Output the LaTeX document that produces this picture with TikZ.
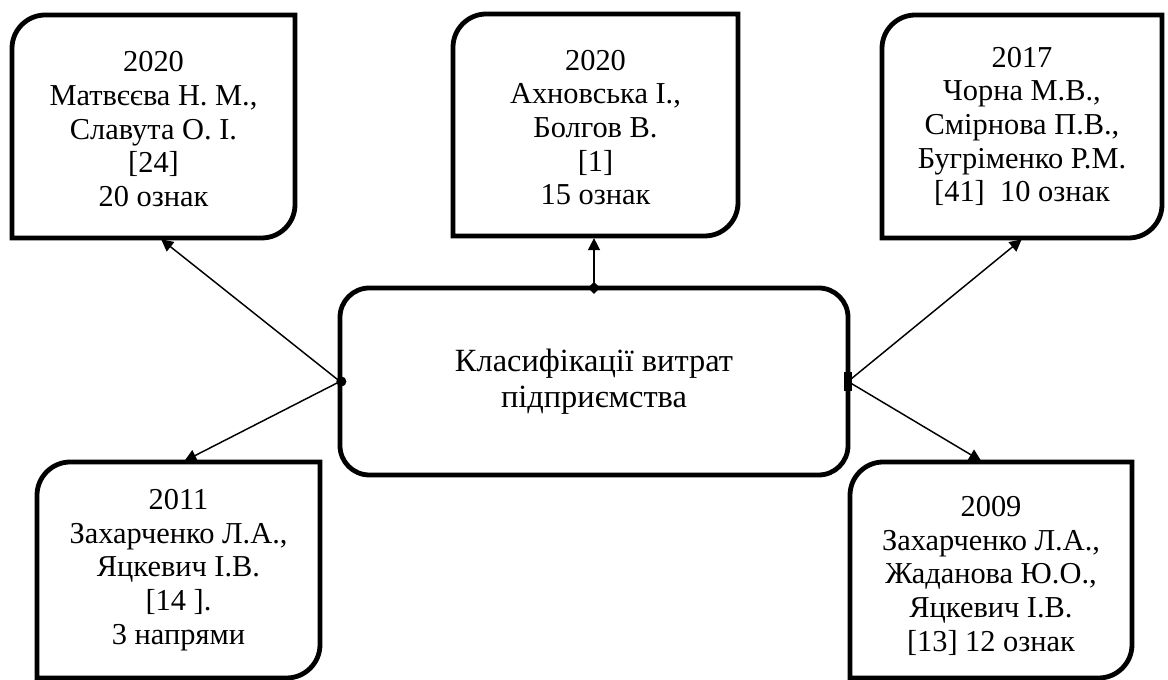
\documentclass[tikz,border=0pt]{standalone}
\usepackage{fontspec}
\setmainfont{Liberation Serif}
\usetikzlibrary{arrows.meta}
\newcommand\tagframe[1]{\draw[frame] (#1.south west) -- ([yshift=-25pt]#1.north west) arc[start angle=180,end angle=90,radius=25pt] -- (#1.north east) -- ([yshift=25pt]#1.south east) arc[start angle=0,end angle=-90,radius=25pt] -- cycle;}
\begin{document}
\begin{tikzpicture}[x=0.75pt,y=0.75pt,
  frame/.style={line width=3.6pt},
  lbl/.style={align=center,font=\fontsize{22.8}{25.2}\selectfont,inner sep=0pt,outer sep=0pt},
  link/.style={line width=1.1pt,-{Triangle[length=9pt,width=9pt]},shorten >=1.6pt},
]
\useasboundingbox (0,0) rectangle (1168,680);
\node[lbl,minimum width=212.25pt,minimum height=167.25pt] (tl) at (153.5,553.5)
  {\rule{0pt}{19pt}2020\\Матвєєва Н. М.,\\Славута О. І.\\{[24]}\\20 ознак};
\node[lbl,minimum width=213.75pt,minimum height=166.5pt] (tm) at (595.5,555)
  {\rule{0pt}{19pt}2020\\Ахновська І.,\\Болгов В.\\{[1]}\\15 ознак};
\node[lbl,minimum width=210pt,minimum height=167.25pt] (tr) at (1022,553.5)
  {2017\\Чорна М.В.,\\Смірнова П.В.,\\Бугріменко Р.М.\\{[41]}\ \ 10 ознак};
\node[lbl,minimum width=212.25pt,minimum height=162pt] (bl) at (178.5,110)
  {2011\\Захарченко Л.А.,\\Яцкевич І.В.\\{[14 ].}\\3 напрями};
\node[lbl,minimum width=211.5pt,minimum height=162pt] (br) at (991,110)
  {\rule{0pt}{24pt}2009\\Захарченко Л.А.,\\Жаданова Ю.О.,\\Яцкевич І.В.\\{[13]} 12 ознак};
\node[draw,frame,rounded corners=22pt,minimum width=381pt,minimum height=140.25pt,
  font=\fontsize{24.3}{27}\selectfont,align=center,inner sep=0pt,outer sep=0pt] (c) at (594,298.5)
  {Класифікації витрат\\підприємства};
\tagframe{tl}
\tagframe{tm}
\tagframe{tr}
\tagframe{bl}
\tagframe{br}
\draw[link] (c.west) -- ([xshift=4.5pt]tl.south);
\draw[link] (c.west) -- ([xshift=3pt]bl.north);
\draw[link] (c.north) -- (c.north |- tm.south);
\draw[link] (c.east) -- ([xshift=1pt]tr.south);
\draw[link] (c.east) -- ([xshift=-6pt]br.north);
\fill (c.north) +(0,4.5pt) -- +(4.5pt,0) -- +(0,-4.5pt) -- +(-4.5pt,0) -- cycle;
\fill ([xshift=1pt]c.west) circle[radius=3.8pt];
\fill ([shift={(-3pt,-7pt)}]c.east) rectangle ([shift={(3pt,7pt)}]c.east);
\end{tikzpicture}
\end{document}
